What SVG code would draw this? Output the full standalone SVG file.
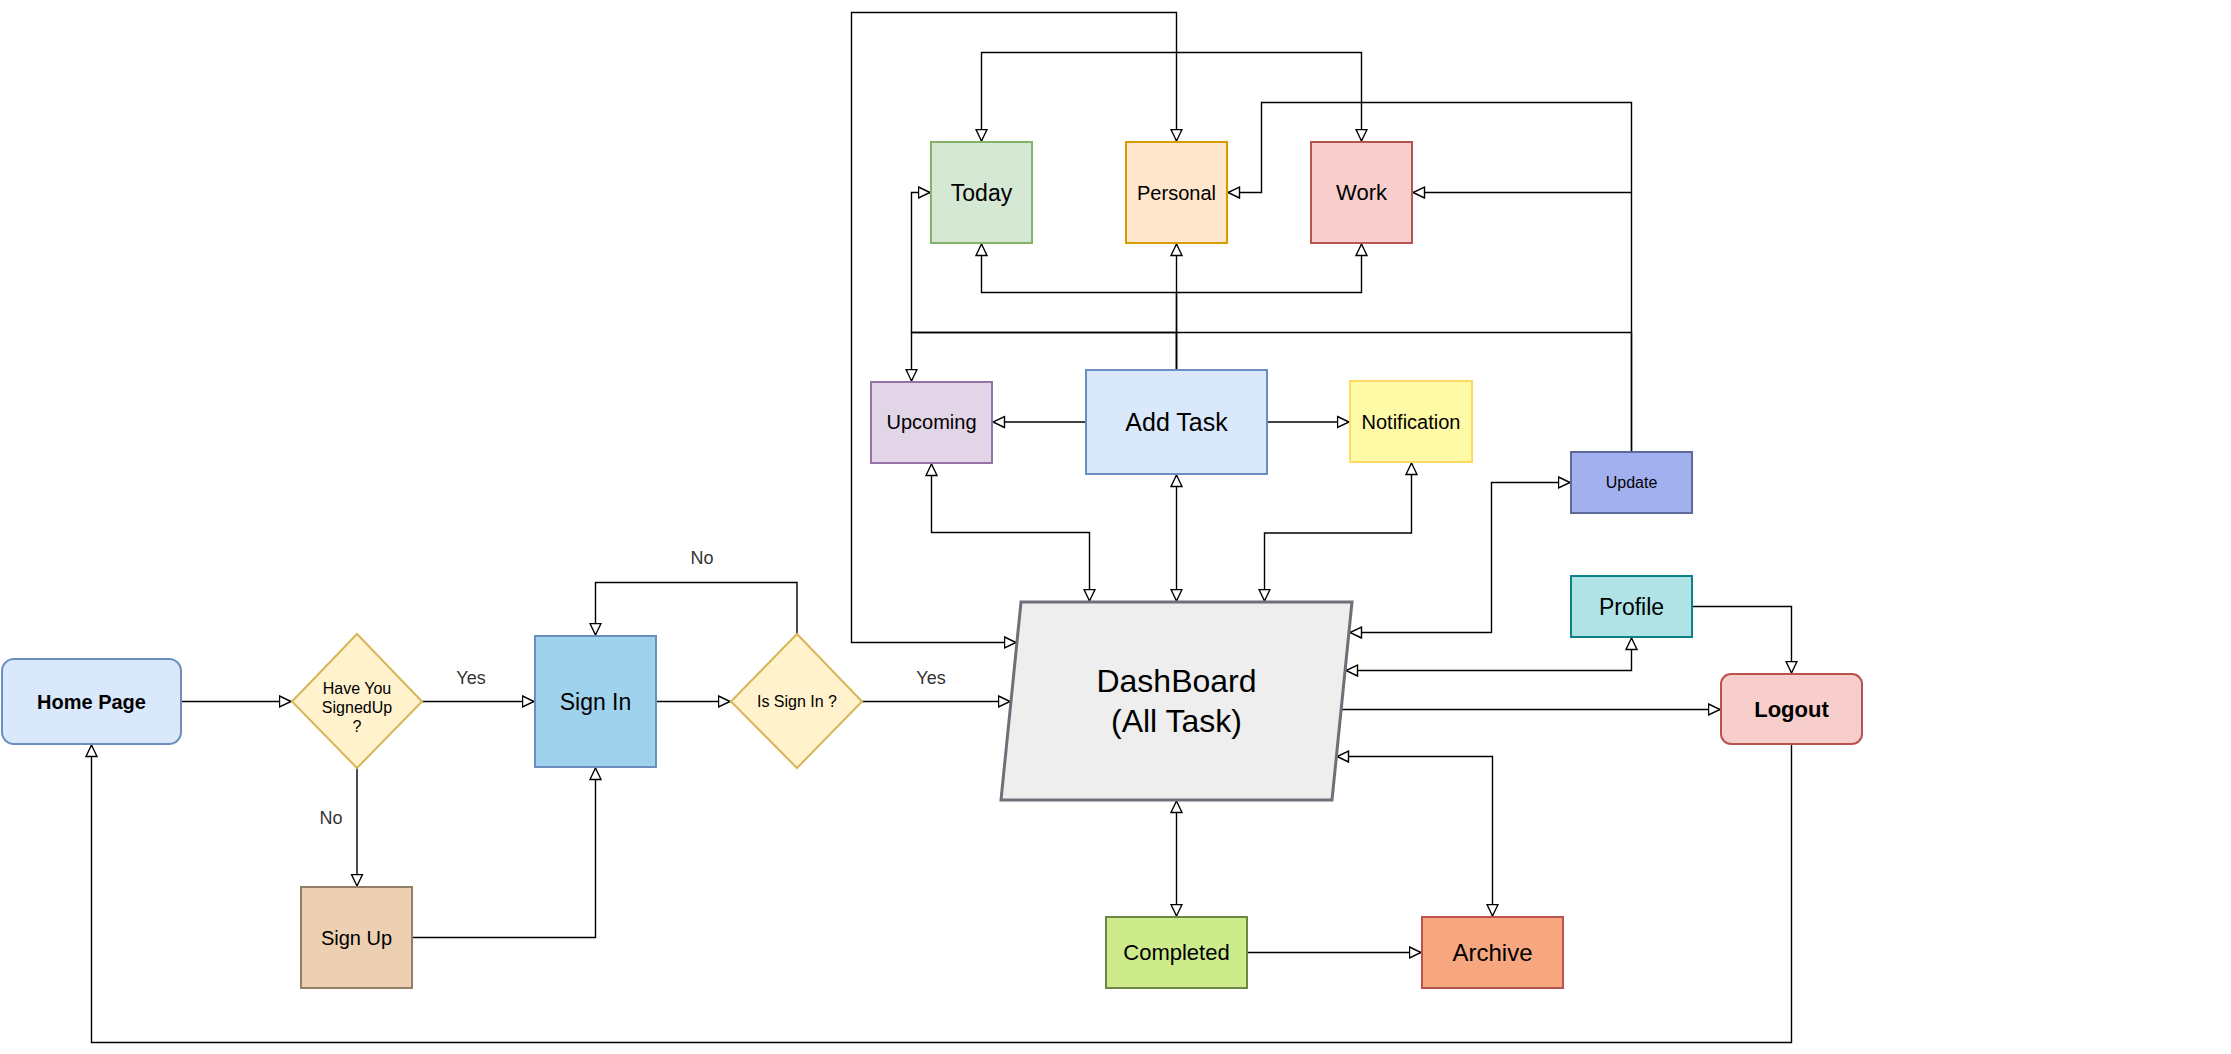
<svg xmlns="http://www.w3.org/2000/svg" width="2231" height="1054" viewBox="0 0 2231 1054">
<defs>
<marker id="arr" markerUnits="userSpaceOnUse" markerWidth="16" markerHeight="16" refX="12.5" refY="7" orient="auto-start-reverse">
<path d="M1,1.5 L12.5,7 L1,12.5 Z" fill="#fff" stroke="#000" stroke-width="1.4"/>
</marker>
<style>
.e{fill:none;stroke:#000;stroke-width:1.4}
.t{font-family:"Liberation Sans",Arial,sans-serif;fill:#000;text-anchor:middle}
.b{font-weight:bold}
.lbl{font-family:"Liberation Sans",Arial,sans-serif;fill:#333;text-anchor:middle;font-size:18px}
</style>
</defs>
<rect width="2231" height="1054" fill="#fff"/>

<g id="connectors">
<path class="e" d="M181,701.5 H291" marker-end="url(#arr)"/>
<path class="e" d="M422,701.5 H534" marker-end="url(#arr)"/>
<path class="e" d="M357,768 V886" marker-end="url(#arr)"/>
<path class="e" d="M412,937.5 H595.5 V768" marker-end="url(#arr)"/>
<path class="e" d="M656,701.5 H730" marker-end="url(#arr)"/>
<path class="e" d="M797,634 V582.5 H595.5 V635" marker-end="url(#arr)"/>
<path class="e" d="M862,701.5 H1010" marker-end="url(#arr)"/>
<path class="e" d="M1176.5,141 V12.5 H851.5 V642.5 H1016" marker-start="url(#arr)" marker-end="url(#arr)"/>
<path class="e" d="M981.5,141 V52.5 H1361.5 V141" marker-start="url(#arr)" marker-end="url(#arr)"/>
<path class="e" d="M1176.5,370 V292.5 H981.5 V244" marker-end="url(#arr)"/>
<path class="e" d="M1176.5,292.5 H1361.5 V244" marker-end="url(#arr)"/>
<path class="e" d="M1176.5,370 V244" marker-end="url(#arr)"/>
<path class="e" d="M1631.5,452 V102.5 H1261.5 V192.5 H1228" marker-end="url(#arr)"/>
<path class="e" d="M1631.5,192.5 H1413" marker-end="url(#arr)"/>
<path class="e" d="M1631.5,452 V332.5 H911.5 V192.5 H930" stroke-width="2" marker-end="url(#arr)"/>
<path class="e" d="M1176.5,370 V332.5 H911.5 V381" stroke-width="2" marker-end="url(#arr)"/>
<path class="e" d="M1086,422 H993" marker-end="url(#arr)"/>
<path class="e" d="M1267,422 H1349" marker-end="url(#arr)"/>
<path class="e" d="M931.5,464 V532.5 H1089.5 V601" marker-start="url(#arr)" marker-end="url(#arr)"/>
<path class="e" d="M1176.5,475 V601" marker-start="url(#arr)" marker-end="url(#arr)"/>
<path class="e" d="M1411.5,463 V533 H1264.5 V601" stroke-width="2" marker-start="url(#arr)" marker-end="url(#arr)"/>
<path class="e" d="M1350,632.5 H1491.5 V482.5 H1570" stroke-width="2" marker-start="url(#arr)" marker-end="url(#arr)"/>
<path class="e" d="M1346,670.5 H1631.5 V638" marker-start="url(#arr)" marker-end="url(#arr)"/>
<path class="e" d="M1692,606.5 H1791.5 V673" marker-end="url(#arr)"/>
<path class="e" d="M1342,709.5 H1720" marker-end="url(#arr)"/>
<path class="e" d="M1337,756.5 H1492.5 V916" marker-start="url(#arr)" marker-end="url(#arr)"/>
<path class="e" d="M1176.5,801 V916" marker-start="url(#arr)" marker-end="url(#arr)"/>
<path class="e" d="M1247,952.5 H1421" marker-end="url(#arr)"/>
<path class="e" d="M1791.5,744 V1042.5 H91.5 V745" marker-end="url(#arr)"/>
<text class="lbl" x="471" y="684">Yes</text>
<text class="lbl" x="331" y="824">No</text>
<text class="lbl" x="702" y="564">No</text>
<text class="lbl" x="931" y="684">Yes</text>
</g>

<g id="home">
<rect x="2" y="659" width="179" height="85" rx="12" fill="#dae8fc" stroke="#6c8ebf" stroke-width="2"/>
<text class="t b" x="91.5" y="708.5" font-size="20">Home Page</text>
</g>
<g id="signedup">
<polygon points="357,634 422,701.5 357,768 292,701.5" fill="#fff2cc" stroke="#d6b656" stroke-width="2"/>
<text class="t" x="357" y="694" font-size="16">Have You</text>
<text class="t" x="357" y="713" font-size="16">SignedUp</text>
<text class="t" x="357" y="732" font-size="16">?</text>
</g>
<g id="signin">
<rect x="535" y="636" width="121" height="131" fill="#9fd2ed" stroke="#6c8ebf" stroke-width="2"/>
<text class="t" x="595.5" y="709.5" font-size="23">Sign In</text>
</g>
<g id="issignin">
<polygon points="797,634 862,701.5 797,768 731,701.5" fill="#fff2cc" stroke="#d6b656" stroke-width="2"/>
<text class="t" x="797" y="707" font-size="16">Is Sign In ?</text>
</g>
<g id="signup">
<rect x="301" y="887" width="111" height="101" fill="#ecd0b1" stroke="#937e68" stroke-width="2"/>
<text class="t" x="356.5" y="944.5" font-size="20">Sign Up</text>
</g>
<g id="today">
<rect x="931" y="142" width="101" height="101" fill="#d5e8d4" stroke="#82b366" stroke-width="2"/>
<text class="t" x="981.5" y="200.5" font-size="23">Today</text>
</g>
<g id="personal">
<rect x="1126" y="142" width="101" height="101" fill="#ffe6cc" stroke="#d79b00" stroke-width="2"/>
<text class="t" x="1176.5" y="199.5" font-size="20">Personal</text>
</g>
<g id="work">
<rect x="1311" y="142" width="101" height="101" fill="#f8cecc" stroke="#b85450" stroke-width="2"/>
<text class="t" x="1361.5" y="200" font-size="22">Work</text>
</g>
<g id="upcoming">
<rect x="871" y="382" width="121" height="81" fill="#e1d5e7" stroke="#9673a6" stroke-width="2"/>
<text class="t" x="931.5" y="429" font-size="20">Upcoming</text>
</g>
<g id="addtask">
<rect x="1086" y="370" width="181" height="104" fill="#dae8fc" stroke="#6c8ebf" stroke-width="2"/>
<text class="t" x="1176.5" y="431" font-size="25">Add Task</text>
</g>
<g id="notification">
<rect x="1350" y="381" width="122" height="81" fill="#fffaa5" stroke="#ffd966" stroke-width="2"/>
<text class="t" x="1411" y="428.5" font-size="20">Notification</text>
</g>
<g id="update">
<rect x="1571" y="452" width="121" height="61" fill="#a3b0f0" stroke="#5e6a99" stroke-width="2"/>
<text class="t" x="1631.5" y="488" font-size="16">Update</text>
</g>
<g id="profile">
<rect x="1571" y="576" width="121" height="61" fill="#b0e3e6" stroke="#0e8088" stroke-width="2"/>
<text class="t" x="1631.5" y="614.5" font-size="23">Profile</text>
</g>
<g id="logout">
<rect x="1721" y="674" width="141" height="70" rx="10" fill="#f8cecc" stroke="#b85450" stroke-width="2"/>
<text class="t b" x="1791.5" y="716.5" font-size="22">Logout</text>
</g>
<g id="dashboard">
<polygon points="1021,602 1352,602 1332,800 1001,800" fill="#eeeeee" stroke="#6d7078" stroke-width="3"/>
<text class="t" x="1176.5" y="691.5" font-size="32">DashBoard</text>
<text class="t" x="1176.5" y="731.5" font-size="32">(All Task)</text>
</g>
<g id="completed">
<rect x="1106" y="917" width="141" height="71" fill="#cdeb8b" stroke="#6d8746" stroke-width="2"/>
<text class="t" x="1176.5" y="960" font-size="22">Completed</text>
</g>
<g id="archive">
<rect x="1422" y="917" width="141" height="71" fill="#f7a77f" stroke="#b85450" stroke-width="2"/>
<text class="t" x="1492.5" y="961" font-size="24">Archive</text>
</g>
</svg>
